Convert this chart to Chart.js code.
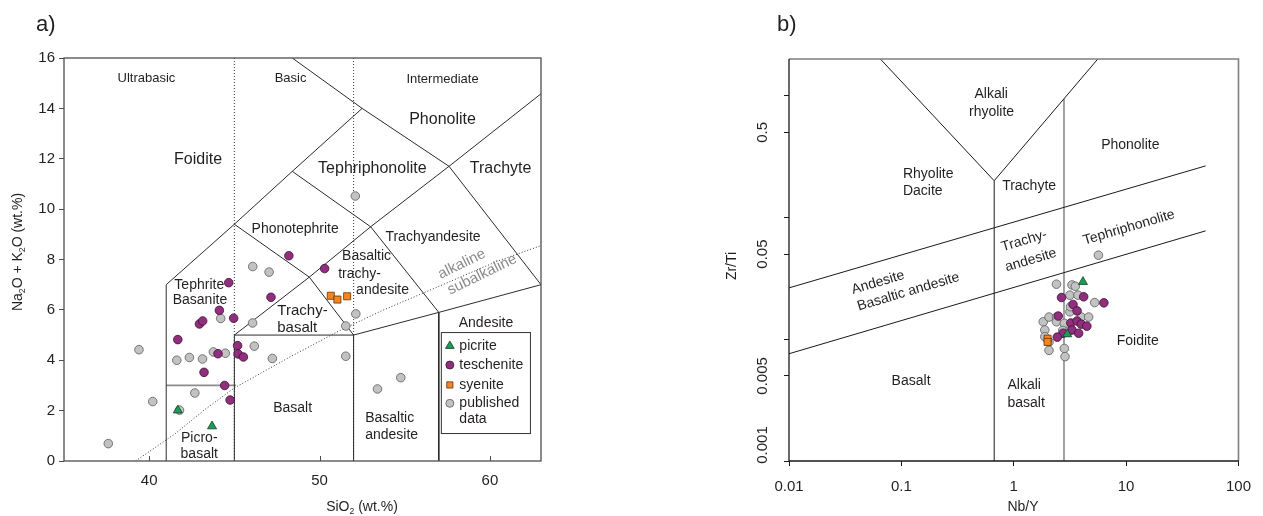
<!DOCTYPE html>
<html><head><meta charset="utf-8">
<script src="https://cdn.jsdelivr.net/npm/chart.js@4.4.0/dist/chart.umd.min.js"></script>
<style>
html,body{margin:0;padding:0;background:#fff;width:1263px;height:516px;overflow:hidden;}
canvas{position:absolute;top:0;}
#c1{left:0;}
#c2{left:620px;}
</style></head><body>
<canvas id="c1" width="620" height="516"></canvas>
<canvas id="c2" width="643" height="516"></canvas>
<script>
// ---------- DATA : panel a) TAS (SiO2, Na2O+K2O) ----------
const tasPicrite = [[41.68,2.01],[43.69,1.38]];
const tasTeschenite = [[48.2,8.15],[50.3,7.64],[44.67,7.08],[47.15,6.5],[44.12,5.98],[44.96,5.67],[42.95,5.44],[43.14,5.56],[41.68,4.82],[45.19,4.58],[44.04,4.26],[45.22,4.25],[45.53,4.13],[43.22,3.52],[44.43,3.0],[44.75,2.42]];
const tasSyenite = [[50.66,6.56],[51.05,6.41],[51.62,6.54]];
const tasPublished = [[52.1,10.52],[46.08,7.72],[47.04,7.5],[52.13,5.84],[44.2,5.66],[46.07,5.48],[51.54,5.36],[39.4,4.42],[46.17,4.56],[43.77,4.33],[44.47,4.28],[41.62,4.0],[42.36,4.11],[43.13,4.05],[47.23,4.07],[51.54,4.16],[42.68,2.7],[40.21,2.36],[41.78,2.02],[53.4,2.86],[54.77,3.31],[37.6,0.69]];
const tasXTicks = [40,50,60];
// ---------- DATA : panel b) Nb/Y vs Zr/Ti ----------
const nbyPicrite = [[4.13,0.0296],[2.99,0.0110]];
const nbyTeschenite = [[2.66,0.0220],[4.19,0.0223],[6.34,0.0199],[3.37,0.0193],[3.66,0.0171],[2.49,0.0155],[3.22,0.0136],[3.66,0.0141],[3.99,0.0133],[4.47,0.0128],[3.30,0.0119],[3.78,0.0112],[2.75,0.0112],[2.44,0.0104]];
const nbySyenite = [[2.0,0.0101],[2.0,0.0095]];
const nbyPublished = [[5.67,0.049],[2.40,0.0283],[3.30,0.0279],[3.53,0.0272],[3.16,0.0230],[3.73,0.0230],[5.25,0.0200],[3.16,0.0168],[3.99,0.0152],[4.64,0.0152],[1.83,0.0139],[2.06,0.0152],[2.40,0.0152],[2.40,0.0139],[2.82,0.0135],[1.89,0.0119],[1.89,0.0105],[2.06,0.0095],[2.06,0.0081],[2.82,0.0084],[2.86,0.0072],[3.2,0.0185],[2.73,0.0118],[3.07,0.0115]];
const nbyXTicks = [0.01,0.1,1,10,100];
const nbyYTicks = [0.001,0.005,0.01,0.05,0.1,0.5,1];
const nbyYLabels = [0.005,0.05,0.5];   // 0.001 is drawn separately (shifted up inside the frame)

// ---------- classification boundaries ----------
const tasSolid = [
  [[41,0],[41,7],[45,9.4],[48.4,11.5],[52.5,14],[48.4,16]],
  [[45,0],[45,5],[49.4,7.3],[53,9.3],[57.6,11.7],[63,14.58]],
  [[52.5,14],[57.6,11.7],[63,7]],
  [[45,5],[52,5],[57,5.9],[63,7]],
  [[52,0],[52,5],[49.4,7.3]],
  [[45,9.4],[49.4,7.3]],
  [[48.4,11.5],[53,9.3],[57,5.9],[57,0]]
];
const tasGrey = [[[41,3],[45.1,3]]];
const tasDotted = [[[45,0],[45,16]],[[52,0],[52,16]]];
const tasAlkLine = [[39.2,0],[41.56,1.1],[43.28,2.05],[45,2.9],[48.18,4.1],[51.1,5.15],[53.6,5.95],[57.4,7.05],[60.5,7.95],[63,8.55]];

const nbyBlack = [
  [[0.67,0.001],[0.67,0.2]],
  [[0.065,2],[0.67,0.2],[5.6,2]],
  [[0.01,0.0264],[51,0.265]],
  [[0.01,0.0076],[51,0.0776]]
];
const nbyGrey = [[[2.8,0.001],[2.8,0.94]]];

// ---------- styles ----------
const FONT = "'Liberation Sans', Arial, Helvetica, sans-serif";
const STY = {
  picrite:    {bg:'#1f9a58', bd:'#0d4426', style:'triangle', r:5.2},
  teschenite: {bg:'#912e7d', bd:'#3c1134', style:'circle',   r:4.3},
  syenite:    {bg:'#f5861f', bd:'#5e330c', style:'rect',     r:5.0},
  published:  {bg:'#c2c2c2', bd:'#5c5c5c', style:'circle',   r:4.3}
};
const pts = a => a.map(p => ({x:p[0], y:p[1]}));
function pointDS(label, arr, k){
  const s = STY[k];
  return {type:'scatter', label, data:pts(arr), pointStyle:s.style, pointRadius:s.r, pointHoverRadius:s.r,
    backgroundColor:s.bg, borderColor:s.bd, pointBorderWidth:0.8, borderWidth:0.8, showLine:false, order:0};
}
function lineDS(arr, color, width, dash){
  return {type:'line', data:pts(arr), borderColor:color, borderWidth:width, borderDash:dash||[],
    pointRadius:0, pointHoverRadius:0, fill:false, tension:0, order:1, showLine:true};
}

function txt(ctx, s, x, y, size, o){
  o = o || {};
  ctx.save();
  ctx.font = size + 'px ' + FONT;
  ctx.fillStyle = o.color || '#231f20';
  ctx.textAlign = o.align || 'center';
  ctx.textBaseline = 'middle';
  ctx.translate(x, y);
  if (o.rot) ctx.rotate(o.rot * Math.PI / 180);
  ctx.fillText(s, 0, 0);
  ctx.restore();
}
// rich text with subscripts: segments [text, isSub]
function richTxt(ctx, segs, x, y, size, rot){
  ctx.save();
  ctx.translate(x, y);
  if (rot) ctx.rotate(rot * Math.PI / 180);
  ctx.fillStyle = '#231f20';
  ctx.textBaseline = 'middle';
  ctx.textAlign = 'left';
  let total = 0;
  segs.forEach(s => { ctx.font = (s[1] ? size*0.62 : size) + 'px ' + FONT; total += ctx.measureText(s[0]).width; });
  let cx = -total/2;
  segs.forEach(s => {
    ctx.font = (s[1] ? size*0.62 : size) + 'px ' + FONT;
    ctx.fillText(s[0], cx, s[1] ? size*0.3 : 0);
    cx += ctx.measureText(s[0]).width;
  });
  ctx.restore();
}
function marker(ctx, k, x, y, r){
  const s = STY[k];
  ctx.save();
  ctx.fillStyle = s.bg; ctx.strokeStyle = s.bd; ctx.lineWidth = 0.8;
  ctx.beginPath();
  if (s.style === 'circle') ctx.arc(x, y, r, 0, Math.PI*2);
  else if (s.style === 'rect') { const h = r*0.78; ctx.rect(x-h, y-h, 2*h, 2*h); }
  else { ctx.moveTo(x, y - r); ctx.lineTo(x + r*0.95, y + r*0.6); ctx.lineTo(x - r*0.95, y + r*0.6); ctx.closePath(); }
  ctx.fill(); ctx.stroke();
  ctx.restore();
}

// ---------- panel a ----------
const tasLabels = [
 ['Ultrabasic',39.84,15.19,13],['Basic',48.3,15.19,13],['Intermediate',57.22,15.15,13],
 ['Phonolite',57.22,13.56,16],['Foidite',42.87,11.98,16],['Tephriphonolite',53.1,11.6,16],['Trachyte',60.63,11.6,16],
 ['Phonotephrite',48.57,9.21,14],['Trachyandesite',56.66,8.87,14],
 ['Basaltic',52.76,8.13,14],['trachy-',52.35,7.43,14],['andesite',53.7,6.77,14],
 ['Tephrite',42.94,6.97,14],['Basanite',42.98,6.39,14],['Trachy-',49.0,5.98,15],['basalt',48.69,5.27,15],
 ['Andesite',59.77,5.49,14],['Basalt',48.42,2.11,14],['Basaltic',54.12,1.71,14],['andesite',54.23,1.04,14],
 ['Picro-',42.94,0.91,14],['basalt',42.94,0.29,14]
];
const tasPlugin = {
  id:'tasDeco',
  afterDraw(chart){
    const ctx = chart.ctx, ca = chart.chartArea, xs = chart.scales.x, ys = chart.scales.y;
    ctx.save();
    ctx.strokeStyle = '#4d4d4d'; ctx.lineWidth = 1.3;
    ctx.strokeRect(ca.left, ca.top, ca.right-ca.left, ca.bottom-ca.top);
    ctx.lineWidth = 1; ctx.strokeStyle = '#4d4d4d';
    tasXTicks.forEach(v => { const px = Math.round(xs.getPixelForValue(v))+0.5; ctx.beginPath(); ctx.moveTo(px, ca.bottom); ctx.lineTo(px, ca.bottom-5); ctx.stroke(); });
    ctx.restore();
    tasLabels.forEach(l => txt(ctx, l[0], xs.getPixelForValue(l[1]), ys.getPixelForValue(l[2]), l[3]));
    txt(ctx, 'alkaline', xs.getPixelForValue(58.35), ys.getPixelForValue(7.82), 15, {color:'#8a8a8a', rot:-26});
    txt(ctx, 'subalkaline', xs.getPixelForValue(59.55), ys.getPixelForValue(7.4), 15, {color:'#8a8a8a', rot:-26});
    // legend box
    const bx0 = xs.getPixelForValue(57.15), bx1 = xs.getPixelForValue(62.38);
    const by0 = ys.getPixelForValue(5.1), by1 = ys.getPixelForValue(1.09);
    ctx.save();
    ctx.fillStyle = '#fff'; ctx.fillRect(bx0, by0, bx1-bx0, by1-by0);
    ctx.strokeStyle = '#333'; ctx.lineWidth = 1; ctx.strokeRect(bx0, by0, bx1-bx0, by1-by0);
    ctx.restore();
    const mx = bx0 + 8.5, tx = bx0 + 18;
    const rows = [['picrite','picrite',4.58],['teschenite','teschenite',3.81],['syenite','syenite',3.02],['published','published',2.29]];
    rows.forEach(r => { const py = ys.getPixelForValue(r[2]); marker(ctx, r[0], mx, py, r[0]==='picrite'?4.6:4); txt(ctx, r[1], tx, py, 14, {align:'left'}); });
    txt(ctx, 'data', tx, ys.getPixelForValue(1.67), 14, {align:'left'});
    richTxt(ctx, [['Na',0],['2',1],['O + K',0],['2',1],['O (wt.%)',0]], 18, 252, 14, -90);
    richTxt(ctx, [['SiO',0],['2',1],[' (wt.%)',0]], 362, 507, 14, 0);
    txt(ctx, 'a)', 36, 25, 22, {align:'left'});
  }
};

new Chart(document.getElementById('c1'), {
  type:'scatter',
  data:{datasets:[
    pointDS('picrite', tasPicrite, 'picrite'),
    pointDS('teschenite', tasTeschenite, 'teschenite'),
    pointDS('syenite', tasSyenite, 'syenite'),
    pointDS('published data', tasPublished, 'published'),
    ...tasSolid.map(a => lineDS(a, '#2b2b2b', 1)),
    ...tasGrey.map(a => lineDS(a, '#8c8c8c', 1.8)),
    ...tasDotted.map(a => lineDS(a, '#3a3a3a', 1, [1,2])),
    lineDS(tasAlkLine, '#3a3a3a', 1, [1,2])
  ]},
  options:{
    responsive:false, animation:false, devicePixelRatio:1,
    layout:{padding:{left:0, top:58, right:79, bottom:0}},
    plugins:{legend:{display:false}, tooltip:{enabled:false}},
    events:[],
    scales:{
      x:{type:'linear', min:35, max:63,
         afterBuildTicks: s => { s.ticks = tasXTicks.map(v => ({value:v})); },
         grid:{display:false}, border:{display:false},
         ticks:{font:{family:FONT, size:15}, color:'#231f20', padding:3, maxRotation:0, autoSkip:false},
         afterFit: s => { s.height = 55; }},
      y:{type:'linear', min:0, max:16,
         ticks:{stepSize:2, font:{family:FONT, size:15}, color:'#231f20', padding:4},
         grid:{drawOnChartArea:false, drawTicks:true, tickLength:5, color:'#4d4d4d'},
         border:{display:false},
         afterFit: s => { s.width = 64; }}
    }
  },
  plugins:[tasPlugin]
});

// ---------- panel b ----------
const nbyLabels = [
 ['Alkali',0.63,1.02,0,'center'],['rhyolite',0.635,0.738,0,'center'],['Phonolite',10.9,0.395,0,'center'],
 ['Rhyolite',0.1033,0.227,0,'left'],['Dacite',0.1033,0.163,0,'left'],['Trachyte',1.37,0.182,0,'center'],
 ['Tephriphonolite',10.6,0.0826,-16.5,'center'],['Trachy-',1.24,0.0643,-16.5,'center'],['andesite',1.42,0.0446,-16.5,'center'],
 ['Andesite',0.062,0.0292,-16.5,'center'],['Basaltic andesite',0.1156,0.0245,-16.5,'center'],
 ['Foidite',12.7,0.0097,0,'center'],['Basalt',0.122,0.00452,0,'center'],['Alkali',0.88,0.00419,0,'left'],['basalt',0.88,0.00301,0,'left']
];
const nbyPlugin = {
  id:'nbyDeco',
  afterDraw(chart){
    const ctx = chart.ctx, ca = chart.chartArea, xs = chart.scales.x, ys = chart.scales.y;
    ctx.save();
    ctx.lineWidth = 1.6; ctx.strokeStyle = '#7f7f7f';
    ctx.beginPath(); ctx.moveTo(ca.left, ca.top); ctx.lineTo(ca.right, ca.top); ctx.lineTo(ca.right, ca.bottom); ctx.stroke();
    ctx.lineWidth = 1.3; ctx.strokeStyle = '#1a1a1a';
    ctx.beginPath(); ctx.moveTo(ca.left, ca.top); ctx.lineTo(ca.left, ca.bottom); ctx.lineTo(ca.right, ca.bottom); ctx.stroke();
    ctx.restore();
    nbyLabels.forEach(l => txt(ctx, l[0], xs.getPixelForValue(l[1]), ys.getPixelForValue(l[2]), 14, {rot:l[3], align:l[4]}));
    txt(ctx, '0.001', ca.left - 26, ys.getPixelForValue(0.001) - 16, 15, {rot:-90});
    txt(ctx, 'Zr/Ti', 112, 266, 14, {rot:-90});
    txt(ctx, 'Nb/Y', 403, 507, 14);
    txt(ctx, 'b)', 157, 25, 22, {align:'left'});
  }
};

new Chart(document.getElementById('c2'), {
  type:'scatter',
  data:{datasets:[
    pointDS('picrite', nbyPicrite, 'picrite'),
    pointDS('teschenite', nbyTeschenite, 'teschenite'),
    pointDS('syenite', nbySyenite, 'syenite'),
    pointDS('published data', nbyPublished, 'published'),
    ...nbyBlack.map(a => lineDS(a, '#1a1a1a', 1)),
    ...nbyGrey.map(a => lineDS(a, '#7a7a7a', 1.4))
  ]},
  options:{
    responsive:false, animation:false, devicePixelRatio:1,
    layout:{padding:{left:109, top:59, right:21, bottom:0}},
    plugins:{legend:{display:false}, tooltip:{enabled:false}},
    events:[],
    scales:{
      x:{type:'logarithmic', min:0.01, max:100,
         afterBuildTicks: s => { s.ticks = nbyXTicks.map(v => ({value:v})); },
         grid:{drawOnChartArea:false, drawTicks:true, tickLength:5, color:'#1a1a1a'},
         border:{display:false},
         ticks:{font:{family:FONT, size:15}, color:'#231f20', padding:12, maxRotation:0, autoSkip:false,
                callback: v => String(v)},
         afterFit: s => { s.height = 55; }},
      y:{type:'logarithmic', min:0.001, max:2,
         afterBuildTicks: s => { s.ticks = nbyYTicks.map(v => ({value:v})); },
         grid:{drawOnChartArea:false, drawTicks:true, tickLength:5, color:'#1a1a1a'},
         border:{display:false},
         ticks:{font:{family:FONT, size:15}, color:'#231f20', padding:2, minRotation:90, maxRotation:90,
                crossAlign:'center', autoSkip:false,
                callback: v => nbyYLabels.some(t => Math.abs(t - v) < 1e-9) ? String(v) : ''},
         afterFit: s => { s.width = 60; }}
    }
  },
  plugins:[nbyPlugin]
});
</script>
</body></html>
